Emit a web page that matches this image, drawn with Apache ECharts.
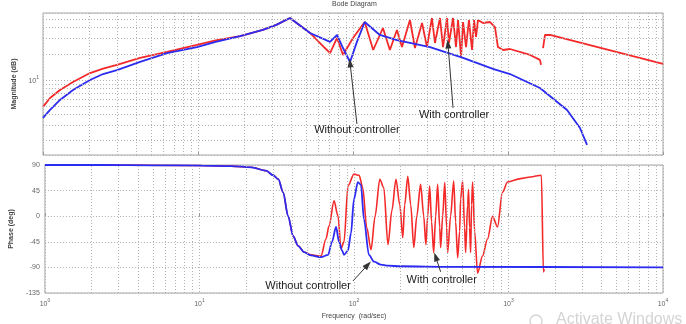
<!DOCTYPE html>
<html>
<head>
<meta charset="utf-8">
<title>Bode Diagram</title>
<script src="https://cdn.jsdelivr.net/npm/echarts@6/dist/echarts.min.js"></script>
<style>
html,body{margin:0;padding:0;background:#fff;}
#main{width:686px;height:324px;}
</style>
</head>
<body>
<div id="main"></div>
<script>
// magnitude - without controller (blue)
var magFreqBlue = [1,1.11,1.287,1.562,2.01,2.44,3.0,4.23,6.31,9.85,13.0,18.7,26.2,32.0,39.2,52.8,71.1,78.9,86.2,95.7,106,119,149,192,314,513,800,1030,1608,2404,2915,3235];
var magBlue = [3.66,4.52,5.89,7.67,10,11.7,13.0,16.1,20.4,23.9,27.4,32.0,37.6,43.0,51.6,34.7,27.4,32.9,23.3,16.1,27.4,46.4,32.9,28.8,23.9,17.9,13.4,11.7,8.09,4.52,2.80,1.79];
// magnitude - with controller (red), '-' = gap
var magFreqRed = [1,1.11,1.287,1.562,2.01,2.44,3.0,4.23,6.31,9.85,13.0,18.7,26.2,32.0,39.2,52.8,65.9,71.1,78.9,86.2,100,119,135,156,173,192,207,233,251,279,300,323,338,364,381,404,416,442,462,476,498,513,536,560,586,604,622,640,690,766,824,861,929,1030,1387,1608,1633,1650,1683,1733,1866,10000];
var magRed = [4.90,6.21,7.67,9.49,12.0,13.5,14.9,17.9,21.0,25.3,28.5,32.0,37.6,43.0,51.6,34.7,23.3,20.4,30.4,19.4,30.4,46.4,22.1,39.6,22.1,37.6,23.9,48.9,23.3,45.2,23.9,51.6,26.6,51.6,23.9,51.6,26.6,51.6,23.9,48.9,18.4,46.4,23.9,48.9,22.1,48.9,31.2,48.9,45.2,46.4,40.6,23.9,22.1,22.7,19.4,17.0,14.9,'-',23.3,32.9,32.9,15.3];
// phase - without controller
var phFreqBlue = [1,2.33,4.90,10.3,16.1,21.7,27.0,30.0,32.4,34.8,37.5,40.4,43.5,47.6,52.8,61.2,68.0,72.1,76.6,80.0,83.7,86.2,91.5,95.7,100,106,111,116,125,135,149,166,201,422,10000];
var phBlue = [90,90,89.5,89,88,86,80,72,65,42,0,-35,-52,-63,-69,-72,-68,-45,-19,-45,-60,-68,-60,-30,30,60,55,-5,-68,-80,-85,-87,-88,-89,-90];
// phase - with controller
var phFreqRed = [1,2.33,4.90,10.3,16.1,21.7,27.0,30.0,32.4,34.8,37.5,40.4,43.5,47.6,52.8,61.2,65.9,69.0,74.3,78.9,82.4,86.2,91.5,100,108,114,121,129,137,147,156,166,176,187,198,207,213,223,233,244,255,270,283,292,300,309,318,328,338,348,359,364,375,387,398,404,422,442,455,469,483,490,505,520,528,544,552,560,569,577,586,604,631,679,732,789,849,914,986,1195,1387,1633,1683,1707];
var phRed = [90,90,89.5,89,88,86,80,72,65,42,0,-35,-52,-63,-68,-70,-40,-17,27,0,-57,-45,53,74,72,50,-20,-59,0,65,50,-50,10,65,20,-38,20,70,20,-55,0,56,0,-50,0,53,-10,-64,0,56,-20,-55,0,59,-20,-64,0,62,-10,-73,-27,30,62,-20,-64,20,47,-20,-64,20,60,-27,-100,-70,-40,0,-19,42,60,66,69,72,-98,-93];

var phaseTicks = [-135, 45, 90]; // min, interval, max
var magGrid = [2,3,4,5,6,7,8,9,20,30,40,50];
var freqGrid = [];
[1,10,100,1000].forEach(function(d){ for(var k=2;k<10;k++) freqGrid.push(k*d); });

var gridLine = {color:'#b2b2b2', width:1, type:[1,2]};
var txtFont = 'Liberation Sans, Arial, sans-serif';
var red = '#f42a2a', blue = '#2b2bf2';

function pairs(xs, ys){ return xs.map(function(x,i){ return [x, ys[i]]; }); }
function isPow10(v){ var e = Math.log(v)/Math.LN10; return Math.abs(e-Math.round(e)) < 0.01; }
function powLabel(v){ return '{b|10}{s|' + Math.round(Math.log(v)/Math.LN10) + '}'; }
var powRich = {
  b:{fontSize:7, color:'#666', lineHeight:10, verticalAlign:'bottom'},
  s:{fontSize:5, color:'#666', lineHeight:10, verticalAlign:'top'}
};

function gridMarks(withMag){
  var d = freqGrid.map(function(f){ return {xAxis:f}; });
  if (withMag) magGrid.forEach(function(m){ d.push({yAxis:m}); });
  return {silent:true, symbol:['none','none'], label:{show:false}, lineStyle:gridLine, data:d};
}
function note(text, at, from, to){
  return {text:text, at:at, from:from, to:to};
}
var notesTop = [
  note('Without controller', [106, 2.66], [106, 3.12], [95.7, 15.7]),
  note('With controller', [449, 3.96], [442, 4.77], [410, 25.9])
];
var notesBottom = [
  note('Without controller', [50.5, -122.6], [98.6, -113.8], [123, -85.4]),
  note('With controller', [370, -112], [364, -97.8], [338, -71.3])
];
function noteSeries(idx, notes){
  return {
    type:'line', xAxisIndex:idx, yAxisIndex:idx, data:[], z:10, silent:true,
    markPoint:{
      symbol:'circle', symbolSize:0,
      label:{show:true, position:'inside', formatter:'{b}', color:'#222', fontSize:11, fontFamily:txtFont},
      data:notes.map(function(n){ return {name:n.text, coord:n.at}; })
    },
    markLine:{
      silent:true, symbol:['none','triangle'], symbolSize:[6,9],
      label:{show:false}, lineStyle:{color:'#333', width:1, type:'solid'},
      data:notes.map(function(n){ return [{coord:n.from},{coord:n.to}]; })
    }
  };
}

var chart = echarts.init(document.getElementById('main'));
var option = {
  animation:false,
  textStyle:{fontFamily:txtFont},
  graphic:[
    {type:'text', left:332, top:1, style:{text:'Bode Diagram', fill:'#444', font:'7px ' + txtFont}},
    {type:'circle', shape:{cx:536, cy:321, r:6}, style:{fill:'none', stroke:'#d6d6d6', lineWidth:1.5}},
    {type:'text', left:556, top:312, style:{text:'Activate Windows', fill:'#d4d4d4', font:'16px ' + txtFont}}
  ],
  grid:[
    {left:43, right:23, top:13, height:142, show:true, borderColor:'#a6a6a6', borderWidth:1, backgroundColor:'#fff'},
    {left:43, right:23, top:165, height:128, show:true, borderColor:'#a6a6a6', borderWidth:1, backgroundColor:'#fff'}
  ],
  xAxis:[
    {type:'log', gridIndex:0, min:1, max:10000, axisLine:{show:false},
     axisTick:{show:true, inside:true, length:3, lineStyle:{color:'#999'}},
     axisLabel:{show:false}, splitLine:{show:true, lineStyle:gridLine}},
    {type:'log', gridIndex:1, min:1, max:10000, axisLine:{show:false},
     axisTick:{show:true, inside:true, length:3, lineStyle:{color:'#999'}},
     axisLabel:{margin:5, rich:powRich, formatter:function(v){ return isPow10(v) ? powLabel(v) : ''; }},
     splitLine:{show:true, lineStyle:gridLine},
     name:'Frequency  (rad/sec)', nameLocation:'middle', nameGap:20,
     nameTextStyle:{fontSize:7, color:'#444'}}
  ],
  yAxis:[
    {type:'log', gridIndex:0, min:1.37, max:58.9, axisLine:{show:false}, axisTick:{show:false},
     axisLabel:{margin:4, rich:powRich, formatter:function(v){ return Math.abs(v-10) < 0.05 ? powLabel(v) : ''; }},
     splitLine:{show:true, lineStyle:gridLine},
     name:'Magnitude (dB)', nameLocation:'middle', nameRotate:90, nameGap:19,
     nameTextStyle:{fontSize:7, color:'#444', fontWeight:'bold'}},
    {type:'value', gridIndex:1, min:phaseTicks[0], max:phaseTicks[2], interval:phaseTicks[1],
     axisLine:{show:false}, axisTick:{show:false},
     axisLabel:{margin:5, fontSize:7, color:'#666'},
     splitLine:{show:true, lineStyle:gridLine},
     name:'Phase (deg)', nameLocation:'middle', nameRotate:90, nameGap:25,
     nameTextStyle:{fontSize:7, color:'#444', fontWeight:'bold'}}
  ],
  series:[
    {type:'line', xAxisIndex:0, yAxisIndex:0, data:[], z:1, markLine:gridMarks(true)},
    {type:'line', xAxisIndex:1, yAxisIndex:1, data:[], z:1, markLine:gridMarks(false)},
    {type:'line', xAxisIndex:0, yAxisIndex:0, data:pairs(magFreqRed, magRed), showSymbol:false, connectNulls:false,
     z:3, lineStyle:{color:red, width:1.8}, itemStyle:{color:red}},
    {type:'line', xAxisIndex:0, yAxisIndex:0, data:pairs(magFreqBlue, magBlue), showSymbol:false,
     z:4, lineStyle:{color:blue, width:1.8}, itemStyle:{color:blue}},
    {type:'line', xAxisIndex:1, yAxisIndex:1, data:pairs(phFreqRed, phRed), showSymbol:false,
     smooth:0.3, smoothMonotone:'x', z:3, lineStyle:{color:red, width:1.6}, itemStyle:{color:red}},
    {type:'line', xAxisIndex:1, yAxisIndex:1, data:pairs(phFreqBlue, phBlue), showSymbol:false,
     smooth:0.3, smoothMonotone:'x', z:4, lineStyle:{color:blue, width:1.8}, itemStyle:{color:blue}},
    noteSeries(0, notesTop),
    noteSeries(1, notesBottom)
  ]
};
chart.setOption(option);
</script>
</body>
</html>
